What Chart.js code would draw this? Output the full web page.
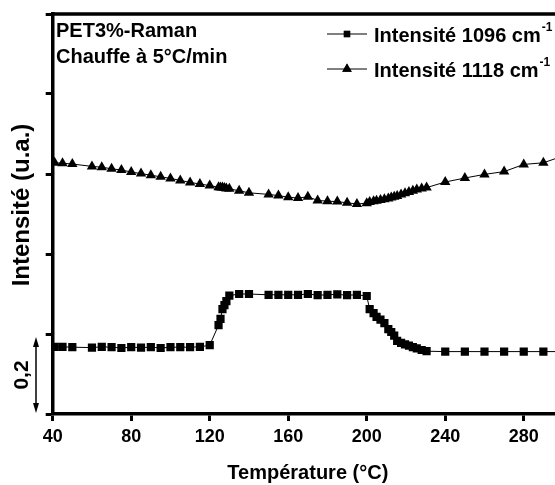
<!DOCTYPE html>
<html>
<head>
<meta charset="utf-8">
<script src="https://cdn.jsdelivr.net/npm/chart.js@4"></script>
<style>
  html, body { margin: 0; padding: 0; background: #fff; overflow: hidden; }
  #wrap { width: 555px; height: 485px; overflow: hidden; }
  canvas { display: block; }
</style>
</head>
<body>
<div id="wrap"><canvas id="raman" width="580" height="485"></canvas></div>
<script>
// températures de mesure (°C)
const temperatures = [41, 45, 50, 60, 65, 70, 75, 80, 85, 90, 95, 100, 105, 110, 115, 120,
  124.5, 125.5, 126.5, 127.5, 128.5, 130, 135, 140, 150, 155, 160, 165, 170, 175, 180, 185,
  190, 195, 200, 201.5, 203.5, 205, 207, 209, 211, 212.5, 214, 215.5, 217.5, 219.5, 221.5,
  223.5, 225.5, 228, 230.5, 240, 250, 260, 270, 280, 290, 300];

// bande 1096 cm-1
const intensite1096 = [0.168, 0.168, 0.167, 0.166, 0.168, 0.167, 0.165, 0.167, 0.166, 0.167,
  0.165, 0.167, 0.167, 0.167, 0.168, 0.172,
  0.222, 0.238, 0.262, 0.272, 0.282, 0.296, 0.300, 0.300, 0.298, 0.298, 0.298, 0.298, 0.300,
  0.297, 0.298, 0.299, 0.297, 0.298, 0.295, 0.262, 0.252, 0.243, 0.236, 0.227, 0.212, 0.205,
  0.196, 0.183, 0.178, 0.174, 0.171, 0.167, 0.164, 0.160, 0.157, 0.156, 0.156, 0.156, 0.156,
  0.156, 0.156, 0.156];

// bande 1118 cm-1
const intensite1118 = [0.628, 0.627, 0.625, 0.619, 0.617, 0.613, 0.610, 0.605, 0.601, 0.597,
  0.593, 0.589, 0.584, 0.579, 0.575, 0.571,
  0.567, 0.566, 0.566, 0.565, 0.564, 0.563, 0.558, 0.553, 0.549, 0.546, 0.542, 0.540, 0.543,
  0.534, 0.532, 0.531, 0.528, 0.525, 0.527, 0.530, 0.532, 0.533, 0.535, 0.537, 0.539, 0.541,
  0.543, 0.545, 0.549, 0.552, 0.555, 0.558, 0.561, 0.564, 0.566, 0.580, 0.590, 0.599, 0.606,
  0.624, 0.628, 0.645];

const xTicks = [40, 80, 120, 160, 200, 240, 280];
const yTicks = [0, 0.2, 0.4, 0.6, 0.8, 1.0];

const police = '"Liberation Sans", Arial, sans-serif';

function points(values) {
  return temperatures.map((t, i) => ({ x: t, y: values[i] }));
}

// cadre haut, textes, légende, titre vertical et échelle 0,2
const decor = {
  id: 'decor',
  afterDraw(chart) {
    const ctx = chart.ctx;
    const area = chart.chartArea;
    const y = chart.scales.y;
    ctx.save();
    ctx.strokeStyle = '#000';
    ctx.fillStyle = '#000';

    ctx.lineWidth = 3.5;
    ctx.beginPath();
    ctx.moveTo(area.left, area.top);
    ctx.lineTo(area.right, area.top);
    ctx.lineTo(area.right, area.bottom);
    ctx.stroke();

    ctx.font = 'bold 20px ' + police;
    ctx.textAlign = 'left';
    ctx.textBaseline = 'alphabetic';
    ctx.fillText('PET3%-Raman', 56, 37);
    ctx.fillText('Chauffe à 5°C/min', 56, 63);

    const rows = [
      { label: 'Intensité 1096 cm', style: 'rect', y: 34 },
      { label: 'Intensité 1118 cm', style: 'triangle', y: 69 }
    ];
    rows.forEach(r => {
      ctx.lineWidth = 1;
      ctx.beginPath();
      ctx.moveTo(327, r.y);
      ctx.lineTo(367, r.y);
      ctx.stroke();
      Chart.helpers.drawPoint(ctx, { pointStyle: r.style, radius: r.style === 'rect' ? 4.5 : 5.5, borderWidth: 0 }, 347, r.y);
      ctx.fill();
      ctx.font = 'bold 20px ' + police;
      ctx.fillText(r.label, 374, r.y + 8);
      const w = ctx.measureText(r.label).width;
      ctx.font = 'bold 12px ' + police;
      ctx.fillText('-1', 374 + w + 1, r.y - 3);
    });

    // titre de l'axe des intensités
    ctx.save();
    ctx.translate(29, 205);
    ctx.rotate(-Math.PI / 2);
    ctx.font = 'bold 24px ' + police;
    ctx.textAlign = 'center';
    ctx.textBaseline = 'alphabetic';
    ctx.fillText('Intensité (u.a.)', 0, 0);
    ctx.restore();

    // double flèche de l'échelle
    const x0 = 36;
    const yTop = y.getPixelForValue(0.2) + 3;
    const yBot = y.getPixelForValue(0) - 1;
    ctx.lineWidth = 1.5;
    ctx.beginPath();
    ctx.moveTo(x0, yTop + 4);
    ctx.lineTo(x0, yBot - 4);
    ctx.stroke();
    ctx.beginPath();
    ctx.moveTo(x0, yTop);
    ctx.lineTo(x0 - 3, yTop + 10);
    ctx.lineTo(x0 + 3, yTop + 10);
    ctx.closePath();
    ctx.fill();
    ctx.beginPath();
    ctx.moveTo(x0, yBot);
    ctx.lineTo(x0 - 3, yBot - 10);
    ctx.lineTo(x0 + 3, yBot - 10);
    ctx.closePath();
    ctx.fill();

    ctx.translate(28, (yTop + yBot) / 2);
    ctx.rotate(-Math.PI / 2);
    ctx.font = 'bold 21px ' + police;
    ctx.textAlign = 'center';
    ctx.textBaseline = 'alphabetic';
    ctx.fillText('0,2', 0, 0);
    ctx.restore();
  }
};

new Chart(document.getElementById('raman'), {
  type: 'line',
  data: {
    datasets: [
      {
        label: 'Intensité 1096 cm-1',
        data: points(intensite1096),
        borderColor: '#000',
        backgroundColor: '#000',
        borderWidth: 1,
        pointStyle: 'rect',
        pointRadius: 5.8,
        pointBorderWidth: 0,
        pointBackgroundColor: '#000'
      },
      {
        label: 'Intensité 1118 cm-1',
        data: points(intensite1118),
        borderColor: '#000',
        backgroundColor: '#000',
        borderWidth: 1,
        pointStyle: 'triangle',
        pointRadius: 6,
        pointBorderWidth: 0,
        pointBackgroundColor: '#000'
      }
    ]
  },
  options: {
    responsive: false,
    animation: false,
    devicePixelRatio: 1,
    layout: { padding: { top: 14, right: 17, left: 0, bottom: 0 } },
    plugins: { legend: { display: false }, tooltip: { enabled: false } },
    scales: {
      x: {
        type: 'linear',
        min: 40,
        max: 300,
        afterBuildTicks: s => { s.ticks = xTicks.map(v => ({ value: v })); },
        afterFit: s => { s.height = 71; },
        border: { display: true, width: 3.5, color: '#000' },
        grid: { drawOnChartArea: false, tickLength: 7, tickWidth: 3, tickColor: '#000' },
        ticks: { color: '#000', padding: 5, maxRotation: 0, font: { family: police, size: 18, weight: 'bold' } },
        title: {
          display: true,
          text: 'Température (°C)',
          color: '#000',
          padding: { top: 0, bottom: 0 },
          font: { family: police, size: 20, weight: 'bold' }
        }
      },
      y: {
        min: 0,
        max: 1.0,
        afterBuildTicks: s => { s.ticks = yTicks.map(v => ({ value: v })); },
        afterFit: s => { s.width = 52.7; },
        border: { display: true, width: 3.5, color: '#000' },
        grid: { drawOnChartArea: false, tickLength: 7, tickWidth: 3, tickColor: '#000' },
        ticks: { display: false }
      }
    }
  },
  plugins: [decor]
});
</script>
</body>
</html>
